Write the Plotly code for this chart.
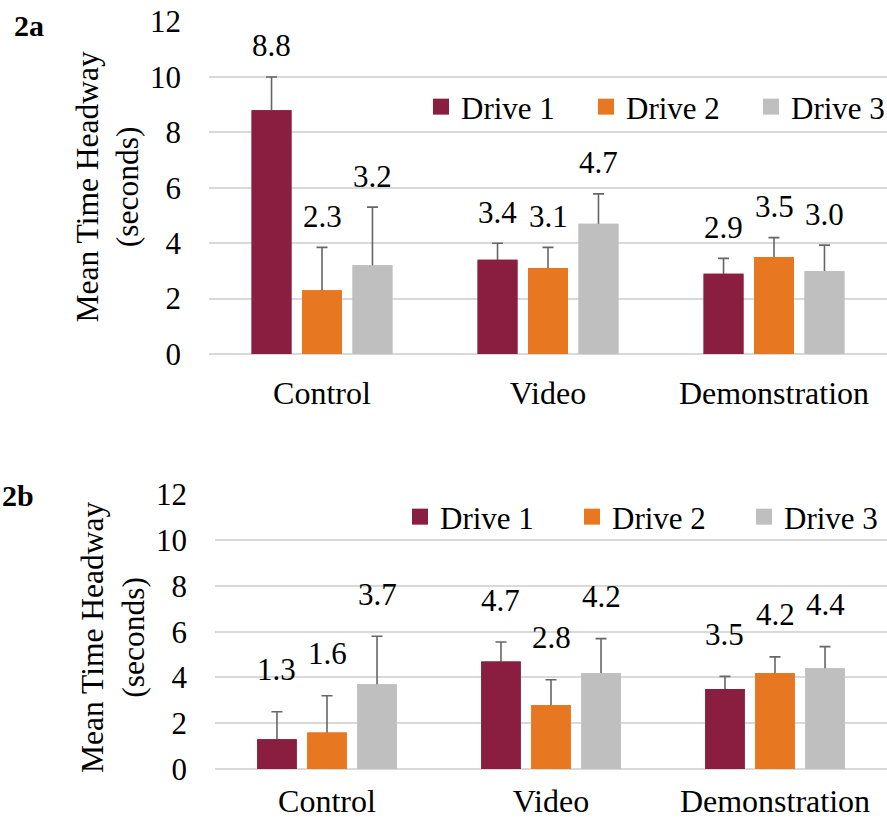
import plotly.graph_objects as go

# ---------------- data ----------------
categories = ["Control", "Video", "Demonstration"]
series_names = ["Drive 1", "Drive 2", "Drive 3"]
series_colors = ["#8A1E41", "#E87722", "#BFBFBF"]

# Panel 2a: means and (upper) error
a_drive1 = [8.8, 3.4, 2.9]
a_drive2 = [2.3, 3.1, 3.5]
a_drive3 = [3.2, 4.7, 3.0]
a_drive1_err = [1.2, 0.6, 0.55]
a_drive2_err = [1.55, 0.75, 0.7]
a_drive3_err = [2.1, 1.08, 0.93]

# Panel 2b
b_drive1 = [1.3, 4.7, 3.5]
b_drive2 = [1.6, 2.8, 4.2]
b_drive3 = [3.7, 4.2, 4.4]
b_drive1_err = [1.2, 0.85, 0.55]
b_drive2_err = [1.6, 1.1, 0.7]
b_drive3_err = [2.1, 1.5, 0.95]

y_ticks = [0, 2, 4, 6, 8, 10, 12]
y_title = "Mean Time Headway<br>(seconds)"
panel_labels = ["2a", "2b"]

# ---------------- style ----------------
W, H = 887, 820
FONT = "Liberation Serif"
FS = 31
GRID = "#d9d9d9"
ERRC = "#666666"
BARGAP = 0.33
BARGROUPGAP = 0.21

panels = [
    dict(means=[a_drive1, a_drive2, a_drive3], errs=[a_drive1_err, a_drive2_err, a_drive3_err],
         xa="x", ya="y", legend="legend", label_shift=31),
    dict(means=[b_drive1, b_drive2, b_drive3], errs=[b_drive1_err, b_drive2_err, b_drive3_err],
         xa="x2", ya="y2", legend="legend2", label_shift=42),
]

fig = go.Figure()
annotations = []
slot = (1 - BARGAP) / 3

for p in panels:
    for i, (name, color) in enumerate(zip(series_names, series_colors)):
        means, errs = p["means"][i], p["errs"][i]
        # bar carrying the error bar
        fig.add_trace(go.Bar(
            x=categories, y=means, marker=dict(color=color, line=dict(width=0)),
            offsetgroup=str(i), xaxis=p["xa"], yaxis=p["ya"], showlegend=False,
            error_y=dict(type="data", array=errs, arrayminus=[0.06] * len(errs),
                         symmetric=False, color=ERRC, thickness=1.6, width=5.5),
            hoverinfo="skip"))
        # same bar again on top, hiding the lower cap of the error bar
        fig.add_trace(go.Bar(
            x=categories, y=means, marker=dict(color=color, line=dict(width=0)),
            offsetgroup=str(i), xaxis=p["xa"], yaxis=p["ya"], showlegend=False,
            hoverinfo="skip"))
        # legend entry
        fig.add_trace(go.Scatter(
            x=[None], y=[None], mode="markers", name=name,
            marker=dict(symbol="square", size=16, color=color),
            xaxis=p["xa"], yaxis=p["ya"], legend=p["legend"]))
        # value labels
        for j, (m, e) in enumerate(zip(means, errs)):
            annotations.append(dict(
                x=j + (i - 1) * slot, y=m + e, xref=p["xa"], yref=p["ya"],
                text=f"{m:.1f}", showarrow=False, xanchor="center", yanchor="middle",
                yshift=p["label_shift"], font=dict(family=FONT, size=FS, color="black")))

# axis titles
annotations.append(dict(x=108 / W, y=1 - 187.5 / H, xref="paper", yref="paper",
                        xanchor="center", yanchor="middle",
                        text=y_title, textangle=-90, showarrow=False,
                        font=dict(family=FONT, size=31.5, color="black")))
annotations.append(dict(x=113 / W, y=1 - 638 / H, xref="paper", yref="paper",
                        xanchor="center", yanchor="middle",
                        text=y_title, textangle=-90, showarrow=False,
                        font=dict(family=FONT, size=31.5, color="black")))
# panel labels
annotations.append(dict(x=12 / W, y=1 - 25 / H, xref="paper", yref="paper", xanchor="left",
                        yanchor="middle", text=f"<b>{panel_labels[0]}</b>", showarrow=False,
                        font=dict(family=FONT, size=30, color="black")))
annotations.append(dict(x=0, y=1 - 495 / H, xref="paper", yref="paper", xanchor="left",
                        yanchor="middle", text=f"<b>{panel_labels[1]}</b>", showarrow=False,
                        font=dict(family=FONT, size=30, color="black")))

xcommon = dict(type="category", showgrid=False, showline=False, ticks="", zeroline=False,
               tickfont=dict(family=FONT, size=32, color="black"), range=[-0.5, 2.5],
               automargin=False)
ycommon = dict(range=[0, 12.02], tickvals=y_ticks, showgrid=True, gridcolor=GRID, gridwidth=1.6,
               zeroline=True, zerolinecolor=GRID, zerolinewidth=1.6, showline=False, ticks="",
               tickfont=dict(family=FONT, size=31, color="black"), ticklabelstandoff=27,
               automargin=False)

legcommon = dict(orientation="h", xanchor="left", yanchor="middle", bgcolor="rgba(0,0,0,0)",
                 font=dict(family=FONT, size=31, color="black"), entrywidthmode="pixels",
                 traceorder="normal")

fig.update_layout(
    width=W, height=H, margin=dict(l=0, r=0, t=0, b=0, autoexpand=False),
    paper_bgcolor="white", plot_bgcolor="white",
    barmode="group", bargap=BARGAP, bargroupgap=BARGROUPGAP,
    font=dict(family=FONT, size=FS, color="black"),
    xaxis=dict(domain=[209 / W, 1], anchor="y", ticklabelstandoff=17, **xcommon),
    yaxis=dict(domain=[1 - 354 / H, 1 - 21 / H], anchor="x", **ycommon),
    xaxis2=dict(domain=[215 / W, 1], anchor="y2", ticklabelstandoff=10, **xcommon),
    yaxis2=dict(domain=[1 - 769 / H, 1 - 494 / H], anchor="x2", **ycommon),
    legend=dict(x=(441 - 20) / W, y=1 - 107 / H, entrywidth=120, **legcommon),
    legend2=dict(x=(420 - 20) / W, y=1 - 517 / H, entrywidth=127, **legcommon),
    annotations=annotations,
    showlegend=True,
)

fig.write_html("out.html", config={"displayModeBar": False},
               post_script="document.body.style.margin='0';document.body.style.overflow='hidden';")
